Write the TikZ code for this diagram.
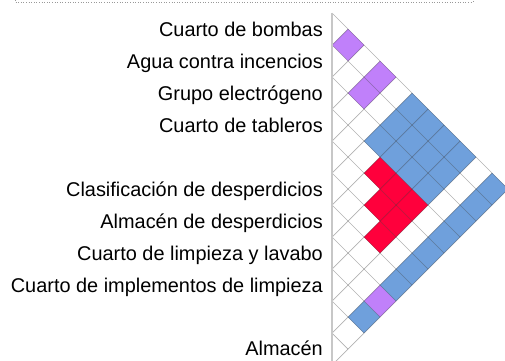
\documentclass[tikz,border=0pt]{standalone}
\usepackage{fontspec}
\setmainfont{Liberation Sans}
\definecolor{cpurple}{RGB}{192,128,250}
\definecolor{cblue}{RGB}{111,160,220}
\definecolor{cred}{RGB}{255,0,60}
\newcommand\cellfill[3]{\fill[#3] ({316+16*(#2-#1)},{13+16*(#1+#2+1)}) -- ++(16,-16) -- ++(16,16) -- ++(-16,16) -- cycle;}
\tikzset{
  lbl/.style={anchor=base east, inner sep=0pt, font=\fontsize{19.9}{22}\selectfont},
  gridline/.style={draw=black, draw opacity=0.3, line width=0.7pt},
  axisline/.style={draw=black!22, line width=1.8pt},
  topframe/.style={draw=black!40, dotted, line width=0.6pt}
}
\begin{document}
\begin{tikzpicture}[x=1pt,y=-1pt]
\useasboundingbox (0,0) rectangle (505,360);
\clip (0,0) rectangle (505,360);
\fill[white] (0,0) rectangle (505,360);
% top dotted frame
\draw[topframe] (15,0) -- (15,2) -- (473,2) -- (473,0);
% coloured cells
\foreach \i/\j in {0/1,0/3,1/3,7/10} {\cellfill{\i}{\j}{cpurple}}
\foreach \i in {0,1,2} {\foreach \j in {5,6,7,8} {\cellfill{\i}{\j}{cblue}}}
\foreach \i in {0,1,2,3,4,5,6,8} {\cellfill{\i}{10}{cblue}}
\foreach \i/\j in {3/6,3/7,3/8,4/7,4/8,5/8} {\cellfill{\i}{\j}{cred}}
% grid lines
\foreach \k in {0,...,10} {\draw[gridline] (332,{13+32*\k}) -- ++({16*(11-\k)},{16*(11-\k)});}
\foreach \k in {1,...,11} {\draw[gridline] (332,{13+32*\k}) -- ++({16*\k},{-16*\k});}
% vertical axis
\draw[axisline] (332,13) -- (332,365);
% labels
\node[lbl] (l0) at (323,36.7) {Cuarto de bombas};
\node[lbl] (l1) at (323,68.7) {Agua contra incencios};
\node[lbl] (l2) at (323,100.7) {Grupo electrógeno};
\node[lbl] (l3) at (323,132.7) {Cuarto de tableros};
\node[lbl] (l5) at (323,196.7) {Clasificación de desperdicios};
\node[lbl] (l6) at (323,228.7) {Almacén de desperdicios};
\node[lbl] (l7) at (323,260.7) {Cuarto de limpieza y lavabo};
\node[lbl] (l8) at (323,292.7) {Cuarto de implementos de limpieza};
\node[lbl] (l10) at (323,355.7) {Almacén};
\end{tikzpicture}
\end{document}
